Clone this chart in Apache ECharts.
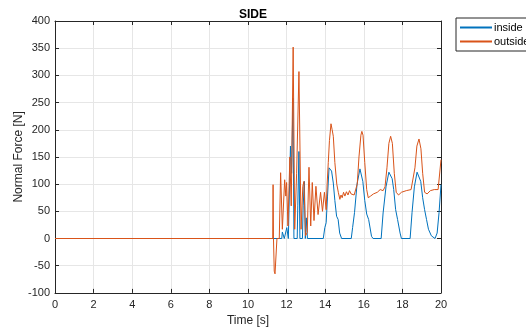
<!DOCTYPE html>
<html><head><meta charset="utf-8">
<script src="https://cdn.jsdelivr.net/npm/echarts@6/dist/echarts.min.js"></script>
<style>html,body{margin:0;padding:0;background:#fff}#c{width:526px;height:328px}</style>
</head><body><div id="c"></div>
<script>
const xTicks = [0,2,4,6,8,10,12,14,16,18,20];
const yTicks = [-100,-50,0,50,100,150,200,250,300,350,400];
const seriesNames = ['inside','outside'];

const insideT = [0,11.6,11.75,11.78,11.85,11.88,11.98,12.01,12.06,12.09,12.14,12.20,12.26,12.33,12.38,12.55,12.58,12.64,12.69,12.82,12.86,12.92,12.97,13.00,13.02,13.06,13.08,13.90,13.98,14.05,14.12,14.20,14.25,14.33,14.42,14.50,14.59,14.67,14.75,14.85,15.35,15.42,15.52,15.65,15.80,15.85,15.95,16.05,16.15,16.25,16.40,16.48,16.90,17.00,17.15,17.30,17.39,17.47,17.55,17.65,17.75,17.88,17.95,18.40,18.50,18.62,18.76,18.86,18.95,19.05,19.15,19.25,19.35,19.50,19.69,19.80,19.90,20];
const insideV = [0,0,0,12,12,0,0,20,20,0,0,170,120,258,0,0,60,160,0,0,60,105,0,0,38,38,0,0,20,29,78,130,128,124,102,70,41,35,10,0,0,20,48,100,128,125,105,70,45,35,4,0,0,47,95,122,125,110,90,53,35,10,0,0,48,95,122,125,105,75,53,35,17,5,0,10,48,99];

const outsideT = [0,11.12,11.28,11.30,11.32,11.36,11.40,11.47,11.50,11.62,11.69,11.78,11.90,11.96,12.00,12.07,12.17,12.24,12.34,12.42,12.52,12.64,12.75,12.84,12.90,12.98,13.07,13.16,13.25,13.33,13.42,13.52,13.63,13.76,13.86,13.96,14.05,14.10,14.16,14.22,14.30,14.36,14.42,14.50,14.60,14.68,14.76,14.82,14.88,14.95,15.02,15.10,15.18,15.26,15.34,15.42,15.50,15.58,15.66,15.75,15.85,15.90,15.96,16.05,16.15,16.23,16.35,16.50,16.70,16.85,17.00,17.10,17.20,17.30,17.39,17.48,17.58,17.68,17.80,17.95,18.20,18.45,18.55,18.65,18.75,18.86,18.96,19.05,19.15,19.28,19.45,19.65,19.85,19.95,20];
const outsideV = [0,0,0,99,0,-60,-65,-65,0,0,121,17,108,78,103,23,150,60,352,17,120,307,17,96,105,5,11,131,23,103,33,96,44,85,50,85,53,100,140,180,211,200,188,140,100,85,72,80,75,85,78,86,80,88,82,85,80,80,100,150,190,197,190,140,90,75,78,82,85,90,88,95,130,175,188,175,120,85,80,85,88,90,92,130,170,183,165,120,85,82,88,90,90,92,145];

const pairs = (t, v) => t.map((x, i) => [x, v[i]]);
const fontFam = '"Liberation Sans", Arial, Helvetica, sans-serif';
const tc = '#262626';

const chart = echarts.init(document.getElementById('c'), null, {renderer: 'canvas'});
const axisCommon = {
  axisLine: {show: true, onZero: false, lineStyle: {color: tc, width: 1}},
  axisTick: {show: true, inside: true, length: 4, lineStyle: {color: tc}},
};
chart.setOption({
  animation: false,
  backgroundColor: '#fff',
  title: {text: 'SIDE', left: 248, top: 4, textAlign: 'center',
    textStyle: {fontFamily: fontFam, fontSize: 12, fontWeight: 'bold', color: '#000'}},
  legend: {
    orient: 'vertical', left: 456, top: 18, data: seriesNames,
    itemWidth: 32, itemHeight: 2, itemGap: 3,
    padding: [4, 60, 4, 4],
    borderColor: tc, borderWidth: 1,
    icon: 'rect',
    textStyle: {fontFamily: fontFam, fontSize: 11, color: '#000', padding: [0,0,0,-3]}
  },
  grid: {left: 55, width: 386, top: 21, height: 271.875, containLabel: false, outerBoundsMode: 'none'},
  xAxis: [
    Object.assign({type: 'value', min: 0, max: 20, interval: 2, position: 'bottom',
      name: 'Time [s]', nameLocation: 'middle', nameGap: 22, nameMoveOverlap: false,
      nameTextStyle: {fontFamily: fontFam, fontSize: 12, color: tc},
      axisLabel: {fontFamily: fontFam, fontSize: 11, color: tc, margin: 7},
      splitLine: {show: true, lineStyle: {color: '#e6e6e6', width: 1}}}, axisCommon),
    Object.assign({type: 'value', min: 0, max: 20, interval: 2, position: 'top',
      axisLabel: {show: false}, splitLine: {show: false}}, axisCommon)
  ],
  yAxis: [
    Object.assign({type: 'value', min: -100, max: 400, interval: 50, position: 'left',
      name: 'Normal Force [N]', nameLocation: 'middle', nameGap: 30, nameMoveOverlap: false,
      nameTextStyle: {fontFamily: fontFam, fontSize: 12, color: tc},
      axisLabel: {fontFamily: fontFam, fontSize: 11, color: tc, margin: 5},
      splitLine: {show: true, lineStyle: {color: '#e6e6e6', width: 1}}}, axisCommon),
    Object.assign({type: 'value', min: -100, max: 400, interval: 50, position: 'right',
      axisLabel: {show: false}, splitLine: {show: false}}, axisCommon)
  ],
  series: [
    {name: seriesNames[0], type: 'line', data: pairs(insideT, insideV), showSymbol: false, symbol: 'none',
      lineStyle: {color: '#0072BD', width: 1}, itemStyle: {color: '#0072BD'}, z: 2},
    {name: seriesNames[1], type: 'line', data: pairs(outsideT, outsideV), showSymbol: false, symbol: 'none',
      lineStyle: {color: '#D95319', width: 1}, itemStyle: {color: '#D95319'}, z: 3}
  ]
});
</script></body></html>
